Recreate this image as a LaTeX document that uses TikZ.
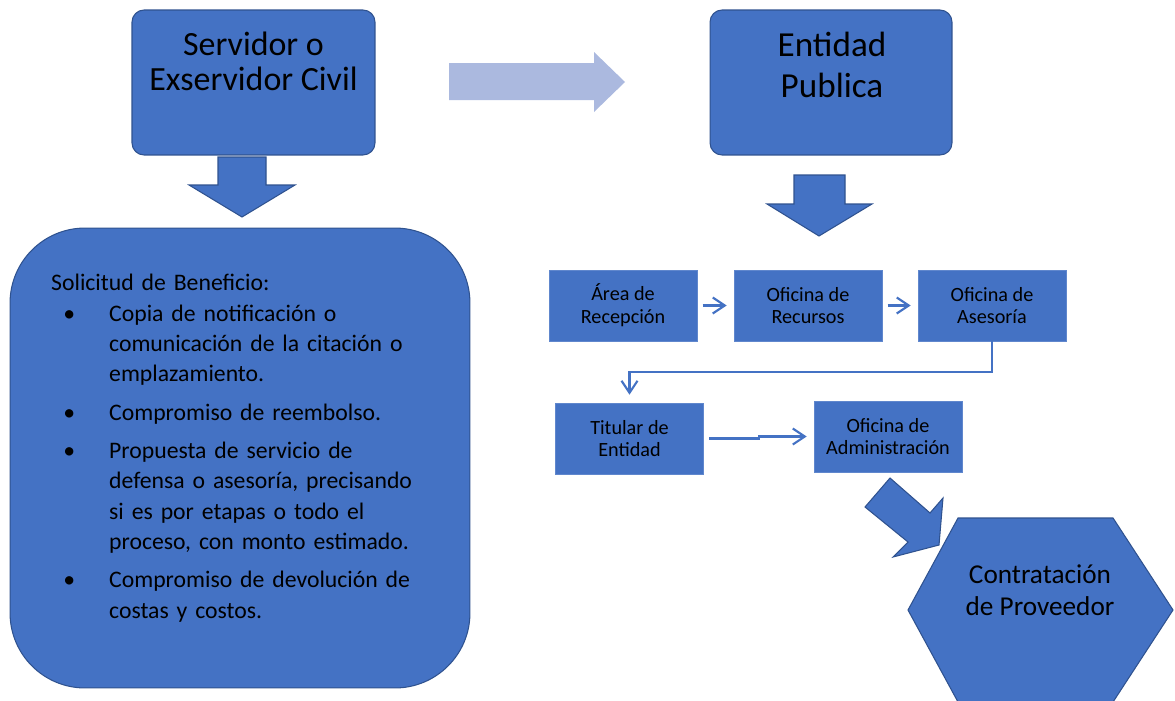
\documentclass[tikz,border=0pt]{standalone}
\usepackage{fontspec}
\setmainfont{Carlito}
\usetikzlibrary{arrows.meta,positioning}

\definecolor{azul}{HTML}{4472C4}
\definecolor{azulborde}{HTML}{2F528F}
\definecolor{azulclaro}{HTML}{ABB9DF}

\tikzset{
  caja/.style={draw=azulborde, line width=0.6pt, fill=azul, rounded corners=0.24cm,
    minimum width=4.86cm, minimum height=2.9cm},
  oficina/.style={fill=azul, draw=azul!85!white, line width=0.4pt, minimum width=2.96cm,
    minimum height=1.42cm, align=center, font=\fontsize{11.5}{13}\selectfont},
  flecha/.style={fill=azul, draw=azulborde, line width=0.6pt},
  conector/.style={draw=azul, line width=1.2pt, -{Straight Barb[length=0.24cm,width=0.32cm]}},
}

\begin{document}
\begin{tikzpicture}[x=0.02cm, y=-0.02cm]
  \useasboundingbox (0,0) rectangle (1175,700);

  % cajas superiores
  \node[caja] (servidor) at (253.5,82.5) {};
  \node[anchor=north, align=center, font=\fontsize{19.3}{19.5}\selectfont] (servidortxt)
    at (253.5,26) {Servidor o\\Exservidor Civil};
  \node[caja, minimum width=4.84cm] (entidad) at (831,82.5) {};
  \node[anchor=north, align=center, font=\fontsize{20}{23.5}\selectfont] (entidadtxt)
    at (832,26) {Entidad\\Publica};

  % flechas de bloque
  \filldraw[flecha] (218,157) -- (266,157) -- (266,185) -- (295,185) -- (242,217)
    -- (189,185) -- (218,185) -- cycle;
  \filldraw[flecha] (794,175) -- (845,175) -- (845,204) -- (872,204) -- (819,236)
    -- (767,204) -- (794,204) -- cycle;
  \fill[azulclaro] (449,63) -- (594,63) -- (594,52) -- (625,82) -- (594,112)
    -- (594,100) -- (449,100) -- cycle;
  \filldraw[flecha] (890,478) -- (930,513) -- (943,498) -- (939,545) -- (893,557)
    -- (908,542) -- (865,507) -- cycle;

  % solicitud
  \node[caja, rounded corners=1.5cm, minimum width=9.2cm, minimum height=9.2cm]
    (solicitud) at (240,458) {};
  \node[anchor=north west, text width=7.6cm, font=\fontsize{13.5}{17.3}\selectfont]
    (solicitudtxt) at (45,268) {%
    Solicitud de Beneficio:
    \begin{list}{\textbullet}{\setlength\leftmargin{1.16cm}\setlength\labelwidth{0.3cm}%
      \setlength\labelsep{0.68cm}\setlength\topsep{0pt}\setlength\partopsep{0pt}%
      \setlength\parsep{0pt}\setlength\itemsep{4.5pt}}
      \item Copia de notificación o\newline comunicación de la citación o\newline emplazamiento.
      \item Compromiso de reembolso.
      \item Propuesta de servicio de\newline defensa o asesoría, precisando\newline
        si es por etapas o todo el\newline proceso, con monto estimado.
      \item Compromiso de devolución de\newline costas y costos.
    \end{list}};

  % oficinas
  \node[oficina] (recepcion) at (623,305.5) {Área de\\Recepción};
  \node[oficina] (recursos) at (808,305.5) {Oficina de\\Recursos};
  \node[oficina] (asesoria) at (992,305.5) {Oficina de\\Asesoría};
  \node[oficina] (titular) at (629.5,438.5) {Titular de\\Entidad};
  \node[oficina] (admin) at (888,436.5) {Oficina de\\Administración};

  \draw[conector, shorten <=3pt, shorten >=4pt] (recepcion.east) -- (recursos.west);
  \draw[conector, shorten <=3pt, shorten >=4pt] (recursos.east) -- (asesoria.west);
  \draw[conector, shorten >=0.16cm] (asesoria.south) -- ++(0,31) -| (titular.north);
  \draw[conector, shorten <=3pt, shorten >=0.14cm] (titular.east) -- ++(55,0) |- (admin.west);

  % contratacion
  \filldraw[flecha] (958,518) -- (1113,518) -- (1173,610) -- (1113,702) -- (958,702)
    -- (908,610) -- cycle;
  \node[align=center, font=\fontsize{15.5}{18}\selectfont] (contratacion) at (1040,590)
    {Contratación\\de Proveedor};
\end{tikzpicture}
\end{document}
